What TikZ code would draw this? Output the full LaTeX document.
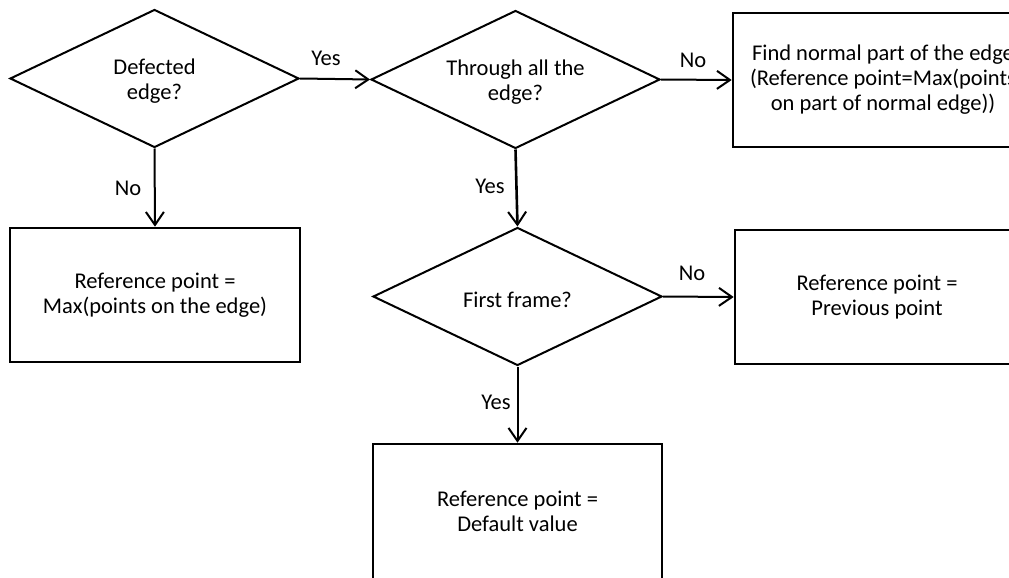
\documentclass[tikz,border=0pt]{standalone}
\usepackage{fontspec}
\setmainfont{Carlito}
\usetikzlibrary{shapes.geometric,arrows.meta}
\tikzset{
  every node/.style={font=\fontsize{22.5}{25}\selectfont},
  dec/.style={diamond,draw=black,line width=2pt,inner sep=0pt,minimum width=289pt,minimum height=138pt},
  dectext/.style={inner sep=0pt,align=center,yshift=-3pt},
  procbox/.style={rectangle,draw=black,line width=2.6pt,inner sep=0pt,align=center},
  flow/.style={draw=black,line width=2pt,-{Straight Barb[length=13pt,width=18pt,line width=2pt]}},
  lbl/.style={inner sep=0pt}
}
\begin{document}
\begin{tikzpicture}[x=1pt,y=-1pt]
\useasboundingbox (0,0) rectangle (1009,578);
\clip (0,0) rectangle (1009,578);
\node[dec,label={[dectext]center:Defected\\edge?}] (d1) at (154.5,78.5) {};
\node[dec,label={[dectext]center:Through all the\\edge?}] (d2) at (515.5,79.5) {};
\node[dec,label={[dectext]center:First frame?}] (d3) at (517.5,296.5) {};
\node[procbox,minimum width=290pt,minimum height=134pt] (b1) at (155,295) {Reference point =\\Max(points on the edge)};
\node[procbox,minimum width=300pt,minimum height=134pt] (b2) at (883,80) {Find normal part of the edge\\(Reference point=Max(points\\on part of normal edge))};
\node[procbox,minimum width=284pt,minimum height=134pt] (b3) at (877,297) {Reference point =\\Previous point};
\node[procbox,minimum width=289pt,minimum height=150pt,
  label={[lbl,align=center,yshift=8pt]center:Reference point =\\Default value}] (b4) at (517.5,519) {};
\draw[flow] (d1.east) -- (d2.west);
\draw[flow] (d2.east) -- (b2.west);
\draw[flow] (d1.south) -- (b1.north);
\draw[flow,line width=2.6pt] (d2.south) -- (d3.north);
\draw[flow] (d3.east) -- (b3.west);
\draw[flow] (d3.south) -- (b4.north);
\node[lbl] (yes1) at (326,58) {Yes};
\node[lbl] (no1) at (693,60) {No};
\node[lbl] (no2) at (128,188) {No};
\node[lbl] (yes2) at (490,186) {Yes};
\node[lbl] (no3) at (692,273) {No};
\node[lbl] (yes3) at (496,402) {Yes};
\end{tikzpicture}
\end{document}
